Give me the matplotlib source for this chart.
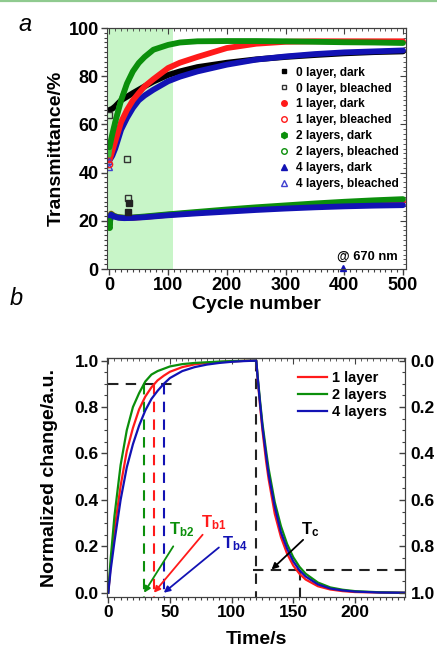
import matplotlib
matplotlib.use("Agg")
import matplotlib.pyplot as plt
from matplotlib.ticker import MultipleLocator, NullFormatter
from matplotlib.lines import Line2D

plt.rcParams['font.family'] = ['Liberation Sans', 'DejaVu Sans']
plt.rcParams['font.weight'] = 'bold'
plt.rcParams['mathtext.fontset'] = 'custom'
plt.rcParams['mathtext.rm'] = 'Liberation Sans:bold'
plt.rcParams['mathtext.bf'] = 'Liberation Sans:bold'
plt.rcParams['mathtext.it'] = 'Liberation Sans:bold'

RED = '#ff1a1a'
GREEN = '#0b8f0b'
BLUE = '#1212b4'
SPINE = '#404040'

# ---- panel a data (cycle number vs transmittance, %) ----
cyc_up = [0, 5, 10, 20, 30, 40, 50, 60, 75, 100, 120, 150, 200, 250, 300, 350, 400, 450, 500]
t0_up = [66, 66.5, 67.5, 70, 71.5, 73, 74.4, 75.8, 77.8, 80.5, 82, 83.8, 85.6, 87, 88, 88.8, 89.5, 90, 90.3]
t1_up = [45, 49, 53, 61, 66, 70, 73, 75.8, 78.8, 83.4, 85.6, 88, 91.7, 93.5, 94.3, 94.5, 94.5, 94.5, 94.5]
t2_up = [50.5, 56, 61, 70, 77, 82, 85.5, 88, 91, 93, 94, 94.5, 94.6, 94.6, 94.5, 94.3, 94.1, 94, 93.8]
t4_up = [45, 47, 50, 57.8, 62.7, 66.8, 70, 72, 74.4, 77.9, 79.8, 82, 84.8, 86.9, 88.2, 89.2, 89.9, 90.3, 90.7]

cyc_lo = [0, 3, 8, 15, 25, 40, 60, 100, 150, 200, 250, 300, 350, 400, 450, 500]
t1_lo = [18.5, 23, 22, 21.5, 21.2, 21.3, 21.6, 22.5, 23.4, 24.3, 25.0, 25.8, 26.4, 27.0, 27.5, 28.0]
t2_lo = [17.5, 22.8, 22, 21.5, 21.3, 21.4, 21.8, 22.7, 23.7, 24.7, 25.6, 26.4, 27.2, 27.9, 28.5, 29.0]
t4_lo = [19, 22.5, 21.8, 21.3, 21.1, 21.2, 21.5, 22.3, 23.1, 23.8, 24.5, 25.1, 25.6, 26.0, 26.3, 26.5]

cyc_g_open = [0, 5, 10, 15, 20, 25, 30]
t2_open = [47, 56, 62, 67, 71, 74, 77]

sq_open_x = [0, 30, 32]
sq_open_y = [64, 45.5, 29.5]
sq_fill_x = [32, 33]
sq_fill_y = [23.5, 27.5]
tri_open_x = [0, 0]
tri_open_y = [42.5, 45]
circ_open_x = [0]
circ_open_y = [43.5]
start_x = [0, 0, 0]
start_y = [17.5, 18.5, 20]

# ---- panel b data (time vs normalized change) ----
time_b = [0, 2, 5, 10, 15, 20, 25, 30, 35, 40, 45, 50, 60, 70, 80, 90, 100, 110, 120,
          121, 123, 125, 128, 130, 135, 140, 145, 150, 155, 160, 170, 180, 190, 200, 220, 240]
n1 = [0, 0.12, 0.27, 0.46, 0.61, 0.71, 0.79, 0.845, 0.885, 0.915, 0.935, 0.952, 0.972, 0.984,
      0.99, 0.994, 0.997, 0.999, 1.0,
      0.93, 0.81, 0.70, 0.565, 0.49, 0.34, 0.24, 0.168, 0.117, 0.082, 0.057, 0.028, 0.014,
      0.007, 0.003, 0.001, 0.0]
n2 = [0, 0.15, 0.33, 0.55, 0.70, 0.80, 0.86, 0.91, 0.94, 0.955, 0.965, 0.975, 0.985, 0.99,
      0.993, 0.996, 0.998, 0.999, 1.0,
      0.94, 0.83, 0.73, 0.61, 0.535, 0.39, 0.287, 0.21, 0.153, 0.112, 0.082, 0.044, 0.023,
      0.013, 0.007, 0.002, 0.0]
n4 = [0, 0.10, 0.22, 0.40, 0.54, 0.64, 0.72, 0.785, 0.835, 0.87, 0.90, 0.925, 0.955, 0.972,
      0.983, 0.99, 0.995, 0.998, 1.0,
      0.935, 0.82, 0.715, 0.59, 0.51, 0.37, 0.26, 0.19, 0.135, 0.097, 0.07, 0.036, 0.018,
      0.01, 0.005, 0.001, 0.0]

tb = {'b2': 29, 'b1': 37, 'b4': 45}
tc = 155.4

fig = plt.figure(figsize=(4.37, 6.49), dpi=100)
fig.add_artist(Line2D([0, 1], [0.9985, 0.9985], transform=fig.transFigure,
                      color='#8fca8f', lw=1.6))

# ================= panel a =================
ax = fig.add_axes([0.2449, 0.5855, 0.684, 0.3713])
ax.axvspan(-4, 108, color='#c8f5c8', lw=0, zorder=0)

kw = dict(lw=4.2, solid_capstyle='round', solid_joinstyle='round')
ax.plot(cyc_up, t0_up, color='black', **kw)
ax.plot(cyc_up, t4_up, color=BLUE, **kw)
ax.plot(cyc_up, t1_up, color=RED, **kw)
ax.plot(cyc_g_open, t2_open, color='#3cc03c', lw=2.8, solid_capstyle='round')
ax.plot(cyc_up, t2_up, color=GREEN, **kw)
ax.plot(cyc_lo, t1_lo, color=RED, **kw)
ax.plot(cyc_lo, t2_lo, color=GREEN, **kw)
ax.plot(cyc_lo, t4_lo, color=BLUE, **kw)
ax.plot(start_x, start_y, ls='none', marker='o', ms=4, color=GREEN)
ax.plot(sq_open_x, sq_open_y, ls='none', marker='s', ms=4.5, mfc='none', mec='#333333')
ax.plot(sq_fill_x, sq_fill_y, ls='none', marker='s', ms=4.5, color='#222222')
ax.plot(tri_open_x, tri_open_y, ls='none', marker='^', ms=4.5, mfc='none', mec='#4040d0')
ax.plot(circ_open_x, circ_open_y, ls='none', marker='o', ms=4.5, mfc='none', mec=RED)
ax.plot([397], [0.6], ls='none', marker='^', ms=5, color=BLUE, clip_on=False)

handles = [
    Line2D([], [], ls='none', marker='s', ms=3.5, color='black', label='0 layer, dark'),
    Line2D([], [], ls='none', marker='s', ms=3.5, mfc='none', mec='#333333', label='0 layer, bleached'),
    Line2D([], [], ls='none', marker='o', ms=4, color=RED, label='1 layer, dark'),
    Line2D([], [], ls='none', marker='o', ms=4, mfc='none', mec=RED, label='1 layer, bleached'),
    Line2D([], [], ls='none', marker='h', ms=4.5, color=GREEN, label='2 layers, dark'),
    Line2D([], [], ls='none', marker='o', ms=4, mfc='none', mec=GREEN, label='2 layers, bleached'),
    Line2D([], [], ls='none', marker='^', ms=4, color=BLUE, label='4 layers, dark'),
    Line2D([], [], ls='none', marker='^', ms=4, mfc='none', mec='#4040d0', label='4 layers, bleached'),
]
ax.legend(handles=handles, loc='upper left', bbox_to_anchor=(0.575, 0.84), frameon=False,
          prop={'size': 8.6, 'weight': 'bold'}, handlelength=0.9, handletextpad=0.5,
          labelspacing=0.33, borderpad=0, borderaxespad=0)

ax.text(491, 5.2, '@ 670 nm', ha='right', va='center', fontsize=9.3, fontweight='bold')

ax.set_xlim(-4, 505)
ax.set_ylim(0, 100)
ax.xaxis.set_major_locator(MultipleLocator(100))
ax.xaxis.set_minor_locator(MultipleLocator(10))
ax.yaxis.set_major_locator(MultipleLocator(20))
ax.yaxis.set_minor_locator(MultipleLocator(2))
ax.set_xlabel('Cycle number', fontsize=14, fontweight='bold', labelpad=1)
ax.set_ylabel('Transmittance/%', fontsize=14, fontweight='bold', labelpad=3)
ax.tick_params(which='both', direction='out', color=SPINE, labelsize=13, pad=2)
ax.tick_params(which='major', length=4, width=1)
ax.tick_params(which='minor', length=2, width=0.8)
for s in ax.spines.values():
    s.set_color(SPINE)
sx = ax.secondary_xaxis('top')
sx.xaxis.set_major_locator(MultipleLocator(100))
sx.xaxis.set_minor_locator(MultipleLocator(10))
sx.xaxis.set_major_formatter(NullFormatter())
sx.tick_params(which='both', direction='in', color=SPINE)
sx.tick_params(which='major', length=4)
sx.tick_params(which='minor', length=2)
sx.spines['top'].set_color(SPINE)
sy = ax.secondary_yaxis('right')
sy.yaxis.set_major_locator(MultipleLocator(20))
sy.yaxis.set_minor_locator(MultipleLocator(2))
sy.yaxis.set_major_formatter(NullFormatter())
sy.tick_params(which='both', direction='in', color=SPINE)
sy.tick_params(which='major', length=4)
sy.tick_params(which='minor', length=2)
sy.spines['right'].set_color(SPINE)

fig.text(0.057, 0.962, 'a', fontsize=17, style='italic', fontweight='normal',
         ha='center', va='center')

# ================= panel b =================
bx = fig.add_axes([0.2455, 0.0806, 0.681, 0.3673])
dash = (0, (5, 3.5))
ax_lw = 1.5
bx.plot([0, 52.7], [0.9, 0.9], color='#222222', ls=dash, lw=ax_lw)
bx.plot([tb['b2'], tb['b2']], [0.9, -0.017], color=GREEN, ls=dash, lw=ax_lw)
bx.plot([tb['b1'], tb['b1']], [0.9, -0.017], color=RED, ls=dash, lw=ax_lw)
bx.plot([tb['b4'], tb['b4']], [0.9, -0.017], color=BLUE, ls=dash, lw=ax_lw)
bx.plot([120, 120], [1.0, -0.017], color='#222222', ls=dash, lw=ax_lw)
bx.plot([117.6, 240.5], [0.1, 0.1], color='#222222', ls=dash, lw=ax_lw)
bx.plot([tc, tc], [0.1, -0.017], color='#222222', ls=dash, lw=ax_lw)

bx.plot(time_b, n1, color=RED, lw=1.6, label='1 layer')
bx.plot(time_b, n2, color=GREEN, lw=1.6, label='2 layers')
bx.plot(time_b, n4, color=BLUE, lw=1.6, label='4 layers')

arr = dict(arrowstyle='-|>', lw=1.3, mutation_scale=9, shrinkA=0, shrinkB=0)
bx.annotate('', xy=(tb['b2'], 0.0), xytext=(52.7, 0.2), arrowprops=dict(color=GREEN, **arr))
bx.annotate('', xy=(tb['b1'], 0.0), xytext=(76.5, 0.25), arrowprops=dict(color=RED, **arr))
bx.annotate('', xy=(tb['b4'], 0.0), xytext=(89.7, 0.195), arrowprops=dict(color=BLUE, **arr))
bx.annotate('', xy=(132.4, 0.1), xytext=(158, 0.228), arrowprops=dict(color='black', **arr))
bx.text(49.5, 0.27, r'$\mathbf{T_{b2}}$', color=GREEN, fontsize=12, ha='left', va='center')
bx.text(75.5, 0.30, r'$\mathbf{T_{b1}}$', color=RED, fontsize=12, ha='left', va='center')
bx.text(92, 0.21, r'$\mathbf{T_{b4}}$', color=BLUE, fontsize=12, ha='left', va='center')
bx.text(156, 0.27, r'$\mathbf{T_{c}}$', color='black', fontsize=12, ha='left', va='center')

bx.legend(loc='upper left', bbox_to_anchor=(0.64, 0.945), frameon=False,
          prop={'size': 10.5, 'weight': 'bold'}, handlelength=2.0, handletextpad=0.35,
          labelspacing=0.2, borderpad=0, borderaxespad=0)

bx.set_xlim(-0.8, 240.5)
bx.set_ylim(-0.017, 1.01)
bx.xaxis.set_major_locator(MultipleLocator(50))
bx.xaxis.set_minor_locator(MultipleLocator(5))
bx.yaxis.set_major_locator(MultipleLocator(0.2))
bx.yaxis.set_minor_locator(MultipleLocator(0.05))
bx.yaxis.set_major_formatter(plt.FormatStrFormatter('%.1f'))
bx.set_xlabel('Time/s', fontsize=14, fontweight='bold', labelpad=8)
bx.set_ylabel('Normalized change/a.u.', fontsize=14, fontweight='bold', labelpad=12)
bx.tick_params(which='both', direction='out', color=SPINE, labelsize=12.5, pad=2)
bx.tick_params(which='major', length=4, width=1)
bx.tick_params(which='minor', length=2, width=0.8)
for s in bx.spines.values():
    s.set_color(SPINE)

rx = bx.twinx()
rx.set_ylim(1.017, -0.01)
rx.yaxis.set_major_locator(MultipleLocator(0.2))
rx.yaxis.set_minor_locator(MultipleLocator(0.05))
rx.yaxis.set_major_formatter(plt.FormatStrFormatter('%.1f'))
rx.tick_params(which='both', direction='in', color=SPINE, labelsize=12.5, pad=4)
rx.tick_params(which='major', length=4, width=1)
rx.tick_params(which='minor', length=2, width=0.8)
for s in rx.spines.values():
    s.set_color(SPINE)
tx = bx.secondary_xaxis('top')
tx.xaxis.set_major_locator(MultipleLocator(50))
tx.xaxis.set_minor_locator(MultipleLocator(5))
tx.xaxis.set_major_formatter(NullFormatter())
tx.tick_params(which='both', direction='in', color=SPINE)
tx.tick_params(which='major', length=4)
tx.tick_params(which='minor', length=2)
tx.spines['top'].set_color(SPINE)

fig.text(0.037, 0.54, 'b', fontsize=17, style='italic', fontweight='normal',
         ha='center', va='center')

fig.savefig('out.png', dpi=100)
